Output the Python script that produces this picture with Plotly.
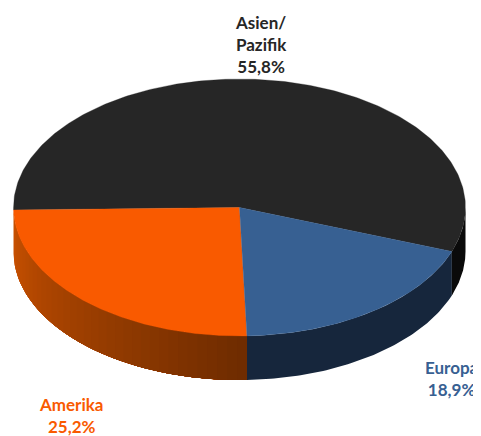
import numpy as np
import plotly.graph_objects as go

categories = ["Europa", "Amerika", "Asien/<br>Pazifik"]
shares = [18.9, 25.2, 55.8]
share_labels = ["18,9%", "25,2%", "55,8%"]
top_colors = ["#376092", "#F95A00", "#262626"]
side_left = ["#16263C", "#CC5200", "#0A0A0A"]
side_right = ["#16263C", "#6E2C00", "#0A0A0A"]
label_colors = ["#376092", "#F95A00", "#262626"]
label_x = [451, 71, 261]
label_y = [378, 415, 44]

CX, CY, RX, RY, DEPTH = 239.5, 207.5, 226.0, 128.5, 44.0
START = -20.0
OFFSET = 8  # page margin around the plot

fig = go.Figure()
total = sum(shares)
edges = START - np.cumsum([0] + [s / total * 360 for s in shares])


def px(t):
    return CX + RX * np.cos(np.radians(t))


def py(t):
    return CY - RY * np.sin(np.radians(t))


def poly(xs, ys, color, width=0.6):
    fig.add_trace(go.Scatter(x=xs, y=ys, mode="lines", fill="toself", fillcolor=color,
                             line=dict(color=color, width=width), hoverinfo="skip", showlegend=False))


def hex_rgb(h):
    return np.array([int(h[i:i + 2], 16) for i in (1, 3, 5)], dtype=float)


def wall(t):
    return (np.concatenate([px(t), px(t[::-1])]),
            np.concatenate([py(t), py(t[::-1]) + DEPTH]))


# Side walls: only the front half (angles between 0 and -180) is visible.
wall_ranges = [
    (edges[0], edges[1], 0),
    (edges[1], max(edges[2], -180), 1),
    (0.0, edges[0], 2),
]
for hi, lo, i in wall_ranges:
    if side_left[i] == side_right[i]:
        poly(*wall(np.linspace(hi, lo, 80)), side_left[i], width=0)
        continue
    # painter's order: each band reaches to the far end, so no seams show
    n = 36
    steps = np.linspace(lo, hi, n + 1)
    for j in range(n):
        f = (j + 0.5) / n
        c = hex_rgb(side_left[i]) * (1 - f) + hex_rgb(side_right[i]) * f
        poly(*wall(np.linspace(steps[j], hi, 60)), "rgb(%d,%d,%d)" % tuple(c), width=0)

# Top faces
for i in [2, 1, 0]:
    t = np.linspace(edges[i], edges[i + 1], 240)
    xs = np.concatenate([[CX], px(t), [CX]])
    ys = np.concatenate([[CY], py(t), [CY]])
    poly(xs, ys, top_colors[i], width=0.3)

for i in range(3):
    fig.add_annotation(x=label_x[i], y=label_y[i],
                       text="<b>" + categories[i] + "<br>" + share_labels[i] + "</b>",
                       showarrow=False, xanchor="center", yanchor="middle", align="center",
                       font=dict(family="Lato", size=17, color=label_colors[i]))

fig.update_layout(
    width=481 - OFFSET, height=436 - OFFSET, margin=dict(l=0, r=0, t=0, b=0),
    paper_bgcolor="white", plot_bgcolor="white", showlegend=False,
    xaxis=dict(range=[OFFSET, 481], visible=False, fixedrange=True),
    yaxis=dict(range=[436, OFFSET], visible=False, fixedrange=True),
)
fig.write_html("out.html", config={"displayModeBar": False})
